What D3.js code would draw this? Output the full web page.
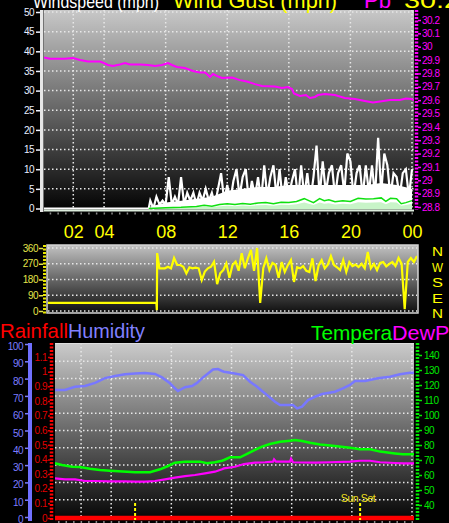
<!DOCTYPE html>
<html><head><meta charset="utf-8">
<script src="https://cdn.jsdelivr.net/npm/d3@7"></script>
<style>html,body{margin:0;padding:0;background:#000;overflow:hidden}svg{display:block}</style>
</head><body>
<svg id="c" width="449" height="523"></svg>
<script>
// ---------- data ----------
const hourTicks = [2, 4, 8, 12, 16, 20, 24];
const hourLabels = ["02", "04", "08", "12", "16", "20", "00"];
const windTicks = [0, 5, 10, 15, 20, 25, 30, 35, 40, 45, 50];
const pressTicks = [28.8, 28.9, 29, 29.1, 29.2, 29.3, 29.4, 29.5, 29.6, 29.7, 29.8, 29.9, 30, 30.1, 30.2];
const pressHours = [0.1,0.49,0.94,1.46,1.98,2.44,2.95,3.73,3.99,4.25,4.58,5.03,5.36,5.68,6.33,6.85,7.31,7.76,8.15,8.41,8.73,9.25,9.77,10.23,10.55,10.75,10.88,11.07,11.33,11.66,12.31,12.82,13.28,13.8,14.25,15.1,15.55,15.94,16.2,16.33,16.72,17.11,17.37,17.69,17.89,18.34,18.99,19.64,20.29,20.94,21.46,21.92,22.56,23.21,23.6,23.99,24.12];
const pressValues = [29.92,29.91,29.91,29.91,29.915,29.90,29.89,29.889,29.878,29.863,29.855,29.867,29.878,29.867,29.867,29.863,29.855,29.863,29.878,29.863,29.848,29.84,29.818,29.807,29.807,29.788,29.773,29.796,29.781,29.766,29.769,29.75,29.739,29.72,29.706,29.702,29.691,29.698,29.683,29.65,29.631,29.638,29.616,29.624,29.638,29.646,29.638,29.616,29.608,29.593,29.582,29.59,29.601,29.601,29.612,29.608,29.597];
const gustPreHours = [0, 6.9];
const gustPreValues = [0, 0];
const gustStart = 7.0, gustStep = 0.2;
const gustValues = [2,0,3,1,2,1,8,1,3,1, 8,1,4,2,4,1,4,2,5,2, 4,1,5,9,2,6,2,7,10,3, 8,10,2,7,3,8,2,11,3,8, 11,3,10,2,8,3,7,10,2,11, 3,9,2,8,16,3,12,4,9,11, 3,9,11,4,14,12,3,9,11,3, 11,4,11,3,18,4,14,11,3,9, 8,3,9,10,3,10];
const baseHours = [7,8,9,10,11,12,13,14,15,16,17,18,19,20,21,22,23,24];
const baseValues = [0.5,1.5,2,2.5,3,4.5,5,5.5,5.5,6,6,6,6,6,6,6.5,6,5];
const avgHours = [6.9,8,9,10,10.5,11,11.5,12,12.5,13,13.5,14,14.5,15,15.5,16,16.5,17,17.3,17.6,18,18.3,18.6,19,19.5,20,20.5,21,21.5,22,22.3,22.6,23,23.3,23.6,24];
const avgValues = [0,0.2,0.3,0.5,0.8,0.6,1.0,1.2,1.0,1.3,1.1,1.4,1.5,1.2,1.6,1.5,1.8,2.5,2.0,1.5,2.5,2.0,2.2,1.7,2.0,1.8,2.6,2.4,2.5,2.7,1.8,2.6,2.5,1.2,1.5,2.0];

const dirTicks = [0, 90, 180, 270, 360];
const compass = ["N", "W", "S", "E", "N"];
const dirPreHours = [0, 7.05, 7.08, 7.1, 7.25];
const dirPreValues = [46, 46, 5, 331, 244];
const dirStart = 7.4, dirStep = 0.2;
const dirValues = [244,244,253,244,303,263,263,253,215,250, 244,248,244,177,225,244,253,282,153,215, 234,272,190,263,282,230,330,244,301,349, 230,360,46,244,301,234,275,263,190,280, 223,262,291,166,250,244,257,230,223,301, 171,260,291,244,265,314,263,250,234,291, 223,280,257,265,251,270,245,337,244,269, 234,275,280,255,269,280,257,303,269,11, 280,303,280,314];

const humTicks = [0,10,20,30,40,50,60,70,80,90,100];
const rainTicks = [0,0.1,0.2,0.3,0.4,0.5,0.6,0.7,0.8,0.9,1,1.1];
const tempTicks = [40,50,60,70,80,90,100,110,120,130,140];
const humHours = [0.25,0.93,1.6,2.26,2.93,3.59,4.26,4.92,5.59,6.25,6.91,7.38,7.91,8.24,8.44,8.91,9.38,9.71,10.11,10.44,10.77,11.1,11.37,11.5,12.03,12.77,13.23,13.7,14.03,14.43,14.89,15.23,15.76,16.09,16.36,16.69,17.09,17.55,18.02,18.88,19.41,19.88,20.21,20.88,21.74,22.54,23.2,23.87,24.14];
const humValues = [73.4,73.4,75.3,75.7,77.5,80.3,81.5,82.5,83,83.2,82.7,80.7,77.3,74.4,72.8,75,75.7,77.5,80.7,83,85.3,85.5,84.4,84,83.2,82,78.2,75.3,72.8,70,66.6,64.7,64.7,64.7,62.8,63.8,67.6,69.5,71.1,72.4,74.4,76.3,78.6,78.6,80.2,81.1,82.5,83.4,83.4];
const tempHours = [0.25,0.73,1.4,1.93,2.59,3.26,3.92,5.05,5.59,6.58,7.25,7.78,8.24,8.91,9.91,10.37,10.9,11.37,11.5,11.9,12.57,13.1,13.56,14.03,14.56,15.23,15.89,16.22,16.69,17.22,17.89,18.88,19.88,20.55,21.21,21.88,22.87,23.4,24.14];
const tempValues = [67.8,66.7,65.5,65.3,64.2,63.3,62.9,62.2,61.8,61.8,63.8,66,68.2,68.9,68.9,67.8,68.5,69.5,70,71.8,71.8,74.4,76.7,78.9,80.7,82.2,82.9,83.3,82.7,81.5,80.4,79.3,78.2,77.1,77.1,75.6,74.4,73.8,73.8];
const dewHours = [0.25,0.93,1.6,2.26,2.93,3.92,4.92,5.59,6.25,6.91,7.58,8.24,8.91,9.57,10.24,10.9,11.37,11.5,12.23,12.83,13.56,14.23,14.76,14.83,14.96,15.89,15.96,16.09,17.55,18.55,19.88,20.55,21.21,21.88,22.87,23.47,24.14];
const dewValues = [57.8,57.1,57.1,56,56,55.8,55.8,55.6,55.6,56,57.1,58.2,59.3,60,61.1,62.2,63.8,64.4,65.5,67.3,68.2,68.5,68.9,70.5,68.9,68.9,70.9,68.5,68.3,68.5,68.9,69.5,69.5,68.5,68,67.8,67.8];
const rainHours = [0, 24.2];
const rainValues = [0, 0];
const sunHours = [5.59, 20.55];
const sunLabels = ["", "Sun Set"];

// ---------- helpers ----------
const zip = (hs, vs) => hs.map((h, i) => [h, vs[i]]);
const FONT = "'Liberation Sans', Arial, sans-serif";
const svg = d3.select("#c");
const defs = svg.append("defs");
function grad(id, c0, c1) {
  const g = defs.append("linearGradient").attr("id", id).attr("x1", 0).attr("y1", 0).attr("x2", 0).attr("y2", 1);
  g.append("stop").attr("offset", "0%").attr("stop-color", c0);
  g.append("stop").attr("offset", "100%").attr("stop-color", c1);
}
function clip(id, x, y, w, h) {
  defs.append("clipPath").attr("id", id).append("rect").attr("x", x).attr("y", y).attr("width", w).attr("height", h);
}
function styleAxis(g, color, fs) {
  g.select(".domain").remove();
  g.selectAll(".tick line").attr("stroke", color).attr("stroke-width", 1.5);
  g.selectAll(".tick text").attr("fill", color).style("font-family", FONT).style("font-size", fs + "px").attr("letter-spacing", "-0.5");
}
grad("gTop", "#c8c8c8", "#040404");
grad("gMid", "#c2c2c2", "#0e0e0e");
grad("gBot", "#cbcbcb", "#060606");

svg.append("rect").attr("width", 449).attr("height", 523).attr("fill", "#000");

// ---------- TOP PANEL ----------
const P1 = {x0: 44, x1: 414, y0: 10, y1: 209};
const xTop = d3.scaleLinear([0, 24], [42.5, 412]);
const yWind = d3.scaleLinear([0, 50], [208.5, 12]);
const yPress = d3.scaleLinear([28.8, 30.2], [207, 20]);
clip("c1", P1.x0, P1.y0, P1.x1 - P1.x0, P1.y1 - P1.y0 + 1);

svg.append("rect").attr("x", P1.x0).attr("y", P1.y0).attr("width", P1.x1 - P1.x0).attr("height", P1.y1 - P1.y0).attr("fill", "url(#gTop)");
const g1 = svg.append("g").attr("clip-path", "url(#c1)");
g1.selectAll(".hg").data(windTicks.slice(1)).join("line")
  .attr("x1", P1.x0).attr("x2", P1.x1).attr("y1", d => yWind(d)).attr("y2", d => yWind(d))
  .attr("stroke", "#e8e8e8").attr("stroke-width", 1.5).attr("stroke-dasharray", "1.5,2.5");
g1.selectAll(".vg").data(hourTicks).join("line")
  .attr("x1", d => xTop(d)).attr("x2", d => xTop(d)).attr("y1", P1.y0).attr("y2", P1.y1)
  .attr("stroke", "#e8e8e8").attr("stroke-width", 1.5).attr("stroke-dasharray", "1.5,2.5");

// pressure
g1.append("path").datum(zip(pressHours, pressValues))
  .attr("d", d3.line().x(d => xTop(d[0])).y(d => yPress(d[1])))
  .attr("fill", "none").attr("stroke", "#ff00ff").attr("stroke-width", 2);
// wind base area + gusts
g1.append("path").datum(zip(baseHours, baseValues))
  .attr("d", d3.area().x(d => xTop(d[0])).y0(yWind(0)).y1(d => yWind(d[1])))
  .attr("fill", "#ffffff");
const gustHours = gustValues.map((v, i) => +(gustStart + i * gustStep).toFixed(2));
g1.append("path").datum(zip(gustPreHours, gustPreValues).concat(zip(gustHours, gustValues)))
  .attr("d", d3.line().x(d => xTop(d[0])).y(d => yWind(d[1])))
  .attr("fill", "none").attr("stroke", "#ffffff").attr("stroke-width", 2.2);
// average wind
g1.append("path").datum(zip(avgHours, avgValues))
  .attr("d", d3.area().x(d => xTop(d[0])).y0(yWind(0) + 1).y1(d => yWind(d[1] * 0.6)))
  .attr("fill", "#c8f4c8");
g1.append("path").datum(zip(avgHours, avgValues))
  .attr("d", d3.line().x(d => xTop(d[0])).y(d => yWind(d[1])))
  .attr("fill", "none").attr("stroke", "#10e010").attr("stroke-width", 1.5);

// borders
svg.append("rect").attr("x", 40).attr("y", P1.y0).attr("width", 3.5).attr("height", 202).attr("fill", "#e6e6e6");
svg.append("line").attr("x1", P1.x0).attr("x2", P1.x1).attr("y1", 210.5).attr("y2", 210.5).attr("stroke", "#dcecdc").attr("stroke-width", 2);
svg.selectAll(".tt1").data(d3.range(0, 48)).join("rect")
  .attr("x", d => xTop(d / 2 + 0.5) - 0.5).attr("y", 212.5).attr("width", 1.5).attr("height", 2).attr("fill", "#8a8a8a");

// left wind axis
const aw = svg.append("g").attr("transform", "translate(40,0)").call(d3.axisLeft(yWind).tickValues(windTicks).tickSize(4).tickPadding(2));
styleAxis(aw, "#eef2ff", 10);
aw.selectAll(".tick text").attr("fill", "#e8eeff");
// right pressure axis
svg.append("line").attr("x1", 416.5).attr("x2", 416.5).attr("y1", P1.y0).attr("y2", 210)
  .attr("stroke", "#ff00ff").attr("stroke-width", 3.5).attr("stroke-dasharray", "2,1.5");
const ap = svg.append("g").attr("transform", "translate(418,0)").call(d3.axisRight(yPress).tickValues(pressTicks).tickSize(3).tickPadding(1).tickFormat(d3.format("")));
styleAxis(ap, "#ff00ff", 10);

// hour labels
const ah = svg.append("g").attr("transform", "translate(0,225)").call(d3.axisBottom(xTop).tickValues(hourTicks).tickSize(0).tickPadding(0).tickFormat((d, i) => hourLabels[i]));
ah.select(".domain").remove();
ah.selectAll(".tick text").attr("fill", "#ffff00").style("font-family", FONT).style("font-size", "18px");

// title (cut by the top edge, as in the original)
const titles = [
  {t: "Windspeed (mph)", x: 33, w: 126, c: "#ffffff", fs: 19},
  {t: "Wind Gust (mph)", x: 173, w: 164, c: "#ffff00", fs: 22},
  {t: "Pb", x: 364, w: 27, c: "#ff00ff", fs: 22},
  {t: "30.2", x: 404, w: 56, c: "#ffff00", fs: 22}
];
svg.selectAll(".ttl").data(titles).join("text")
  .attr("x", d => d.x).attr("y", 7.5).text(d => d.t).attr("fill", d => d.c)
  .attr("textLength", d => d.w).attr("lengthAdjust", "spacingAndGlyphs")
  .style("font-family", FONT).style("font-size", d => d.fs + "px");

// ---------- MIDDLE PANEL ----------
const P2 = {x0: 48, x1: 417, y0: 246, y1: 312};
const xMid = d3.scaleLinear([0, 24], [48, 417]);
const yDir = d3.scaleLinear([0, 360], [311, 248]);
clip("c2", P2.x0, P2.y0 - 1, P2.x1 - P2.x0, P2.y1 - P2.y0 + 2);
svg.append("rect").attr("x", 47).attr("y", 245).attr("width", 371).attr("height", 68).attr("fill", "url(#gMid)")
  .attr("stroke", "#d4d4d4").attr("stroke-width", 1.5);
const g2 = svg.append("g").attr("clip-path", "url(#c2)");
g2.selectAll(".hg2").data(dirTicks).join("line")
  .attr("x1", P2.x0).attr("x2", P2.x1).attr("y1", d => yDir(d)).attr("y2", d => yDir(d))
  .attr("stroke", "#e8e8e8").attr("stroke-width", 1.5).attr("stroke-dasharray", "1.5,2.5");
const dirHours = dirValues.map((v, i) => +(dirStart + i * dirStep).toFixed(2));
g2.append("path").datum(zip(dirPreHours, dirPreValues).concat(zip(dirHours, dirValues)))
  .attr("d", d3.line().x(d => xMid(d[0])).y(d => yDir(d[1])))
  .attr("fill", "none").attr("stroke", "#ffff00").attr("stroke-width", 2.2);
svg.append("line").attr("x1", 44.5).attr("x2", 44.5).attr("y1", 245).attr("y2", 314)
  .attr("stroke", "#e8e800").attr("stroke-width", 3).attr("stroke-dasharray", "2,1.5");
const ad = svg.append("g").attr("transform", "translate(43,0)").call(d3.axisLeft(yDir).tickValues(dirTicks).tickSize(4).tickPadding(1));
styleAxis(ad, "#e4e44a", 10);
// compass letters stacked vertically
svg.selectAll(".cmp").data(compass).join("text")
  .attr("x", 432).attr("y", (d, i) => 256 + i * 15.5).text(d => d)
  .attr("textLength", 11).attr("lengthAdjust", "spacingAndGlyphs")
  .attr("fill", "#ffff00").style("font-family", FONT).style("font-size", "13.5px");

// ---------- BOTTOM PANEL ----------
const P3 = {x0: 55, x1: 414, y0: 343, y1: 519};
const xBot = d3.scaleLinear([0, 24], [51, 412]);
const yHum = d3.scaleLinear([0, 100], [517, 344]);
const yRain = d3.scaleLinear([0, 1.1], [518, 357]);
const yTemp = d3.scaleLinear([40, 140], [505, 355]);
clip("c3", P3.x0, P3.y0, P3.x1 - P3.x0, P3.y1 - P3.y0 + 2);
svg.append("rect").attr("x", P3.x0).attr("y", P3.y0).attr("width", P3.x1 - P3.x0).attr("height", P3.y1 - P3.y0).attr("fill", "url(#gBot)");
const g3 = svg.append("g").attr("clip-path", "url(#c3)");
g3.selectAll(".hg3").data(humTicks.slice(1, 10)).join("line")
  .attr("x1", P3.x0).attr("x2", P3.x1).attr("y1", d => yHum(d)).attr("y2", d => yHum(d))
  .attr("stroke", "#e8e8e8").attr("stroke-width", 1.5).attr("stroke-dasharray", "1.5,2.5");
g3.selectAll(".vg3").data(hourTicks).join("line")
  .attr("x1", d => xBot(d)).attr("x2", d => xBot(d)).attr("y1", P3.y0).attr("y2", P3.y1)
  .attr("stroke", "#e8e8e8").attr("stroke-width", 1.5).attr("stroke-dasharray", "1.5,2.5");
svg.append("line").attr("x1", P3.x0).attr("x2", P3.x1).attr("y1", P3.y0 + 0.5).attr("y2", P3.y0 + 0.5).attr("stroke", "#dddddd");

g3.append("path").datum(zip(humHours, humValues))
  .attr("d", d3.line().x(d => xBot(d[0])).y(d => yHum(d[1])))
  .attr("fill", "none").attr("stroke", "#7878ff").attr("stroke-width", 2.5);
g3.append("path").datum(zip(tempHours, tempValues))
  .attr("d", d3.line().x(d => xBot(d[0])).y(d => yTemp(d[1])))
  .attr("fill", "none").attr("stroke", "#00ff00").attr("stroke-width", 2.5);
g3.append("path").datum(zip(dewHours, dewValues))
  .attr("d", d3.line().x(d => xBot(d[0])).y(d => yTemp(d[1])))
  .attr("fill", "none").attr("stroke", "#ff00ff").attr("stroke-width", 2.2);
g3.append("path").datum(zip(rainHours, rainValues))
  .attr("d", d3.line().x(d => xBot(d[0])).y(d => yRain(d[1])))
  .attr("fill", "none").attr("stroke", "#ff0000").attr("stroke-width", 4.5);
// sun rise / set markers
g3.selectAll(".sun").data(sunHours).join("line")
  .attr("x1", d => xBot(d)).attr("x2", d => xBot(d)).attr("y1", 503).attr("y2", 520)
  .attr("stroke", "#ffff00").attr("stroke-width", 2).attr("stroke-dasharray", "3,2");
svg.selectAll(".sunl").data(sunHours).join("text")
  .attr("x", d => xBot(d) - 2).attr("y", 502).attr("text-anchor", "middle")
  .text((d, i) => sunLabels[i]).attr("fill", "#f0e020")
  .style("font-family", FONT).style("font-size", "10.5px").attr("letter-spacing", "-0.4");
svg.selectAll(".tt3").data(d3.range(0, 48)).join("rect")
  .attr("x", d => xBot(d / 2 + 0.5) - 0.5).attr("y", 521).attr("width", 1.5).attr("height", 2).attr("fill", "#8a8a8a");

// humidity axis (blue)
svg.append("rect").attr("x", 28).attr("y", 343).attr("width", 4).attr("height", 178).attr("fill", "#7070ff");
const ahm = svg.append("g").attr("transform", "translate(28,0)").call(d3.axisLeft(yHum).tickValues(humTicks).tickSize(3).tickPadding(2));
styleAxis(ahm, "#7c7cff", 10);
ahm.selectAll(".tick text").attr("dy", "0.55em");
// rain axis (red)
svg.append("line").attr("x1", 51.5).attr("x2", 51.5).attr("y1", 343).attr("y2", 521)
  .attr("stroke", "#ff0000").attr("stroke-width", 3.5).attr("stroke-dasharray", "2,1.5");
const arn = svg.append("g").attr("transform", "translate(50,0)").call(d3.axisLeft(yRain).tickValues(rainTicks).tickSize(2).tickPadding(1).tickFormat(d3.format("")));
styleAxis(arn, "#e00000", 10);
// temperature axis (green)
svg.append("line").attr("x1", 417.5).attr("x2", 417.5).attr("y1", 343).attr("y2", 521)
  .attr("stroke", "#00ee00").attr("stroke-width", 3.5).attr("stroke-dasharray", "2,1.5");
const atp = svg.append("g").attr("transform", "translate(419,0)").call(d3.axisRight(yTemp).tickValues(tempTicks).tickSize(3).tickPadding(2));
styleAxis(atp, "#00e800", 10);

// bottom titles
const btitles = [
  {t: "Rainfall", x: 0, w: 68, c: "#ff0000", y: 337.5},
  {t: "Humidity", x: 68, w: 77, c: "#8080ff", y: 337.5},
  {t: "Tempera", x: 311, w: 81, c: "#00ff00", y: 340},
  {t: "DewPoint", x: 392, w: 92, c: "#ff00ff", y: 340}
];
svg.selectAll(".bt").data(btitles).join("text")
  .attr("x", d => d.x).attr("y", d => d.y).text(d => d.t).attr("fill", d => d.c)
  .attr("textLength", d => d.w).attr("lengthAdjust", "spacingAndGlyphs")
  .style("font-family", FONT).style("font-size", "21px");
</script>
</body></html>
